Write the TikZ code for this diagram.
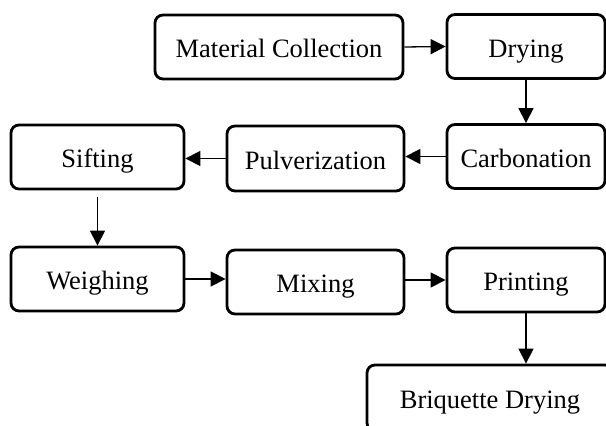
\documentclass[tikz,border=0pt]{standalone}
\usepackage{fontspec}
\setmainfont{Liberation Serif}
\usetikzlibrary{arrows.meta}

\begin{document}
\begin{tikzpicture}[x=0.5pt, y=-0.5pt,
    stage/.style={draw, rounded corners=4pt, line width=1.4pt, inner sep=0pt, minimum height=32pt, text height=14pt, text depth=3pt, font=\fontsize{13.25}{16}\selectfont},
    flow/.style={-{Triangle[length=7.5pt, width=7.5pt]}, line width=0.65pt}]
  \useasboundingbox (0, 0) rectangle (606, 426);
  \clip (0, 0) rectangle (606, 426);
  \node [stage, minimum width=124pt] (mc) at (279, 47) {Material Collection};
  \node [stage, minimum width=79pt] (dry) at (526, 46.5) {Drying};
  \node [stage, minimum width=79pt] (carb) at (526, 156.5) {Carbonation};
  \node [stage, minimum width=88.5pt, minimum height=32.5pt] (pulv) at (315.5, 158.5) {Pulverization};
  \node [stage, minimum width=86.5pt] (sift) at (97.5, 157) {Sifting};
  \node [stage, minimum width=86.5pt] (weigh) at (97.5, 279) {Weighing};
  \node [stage, minimum width=88.5pt] (mix) at (315.5, 282) {Mixing};
  \node [stage, minimum width=79pt] (print) at (526, 280) {Printing};
  \node [stage, minimum width=123pt, minimum height=33pt] (briq) at (490, 398) {Briquette Drying};
  \draw [flow] (mc.east) -- (dry.west);
  \draw [flow] (dry.south) -- (carb.north);
  \draw [flow] (carb.west) -- (carb.west -| pulv.east);
  \draw [flow] (pulv.west) -- (pulv.west -| sift.east);
  \draw [flow, shorten <=3.5pt] (sift.south) -- (weigh.north);
  \draw [flow] (weigh.east) -- (weigh.east -| mix.west);
  \draw [flow] (print.west -| mix.east) -- (print.west);
  \draw [flow] (print.south) -- (print.south |- briq.north);
\end{tikzpicture}
\end{document}
